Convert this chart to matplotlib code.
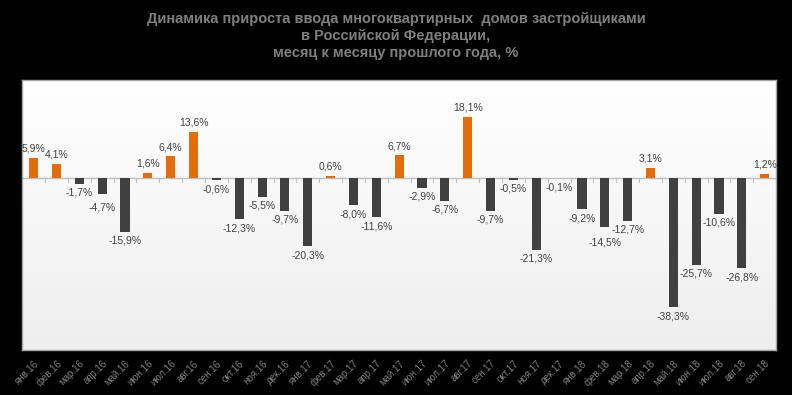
import numpy as np
import matplotlib.pyplot as plt
from matplotlib.colors import LinearSegmentedColormap

# Месяцы и прирост, %
months = ['янв.16', 'фев.16', 'мар.16', 'апр.16', 'май.16', 'июн.16', 'июл.16', 'авг.16',
          'сен.16', 'окт.16', 'ноя.16', 'дек.16',
          'янв.17', 'фев.17', 'мар.17', 'апр.17', 'май.17', 'июн.17', 'июл.17', 'авг.17',
          'сен.17', 'окт.17', 'ноя.17', 'дек.17',
          'янв.18', 'фев.18', 'мар.18', 'апр.18', 'май.18', 'июн.18', 'июл.18', 'авг.18',
          'сен.18']
values = [5.9, 4.1, -1.7, -4.7, -15.9, 1.6, 6.4, 13.6,
          -0.6, -12.3, -5.5, -9.7,
          -20.3, 0.6, -8.0, -11.6, 6.7, -2.9, -6.7, 18.1,
          -9.7, -0.5, -21.3, -0.1,
          -9.2, -14.5, -12.7, 3.1, -38.3, -25.7, -10.6, -26.8,
          1.2]

title = ('Динамика прироста ввода многоквартирных  домов застройщиками\n'
         'в Российской Федерации,\n'
         'месяц к месяцу прошлого года, %')

# подписи, которые сдвинуты ниже, чтобы не налезали на соседей
label_nudge = {'апр.16': -3, 'фев.18': -5}

plt.rcParams['font.family'] = ['Liberation Sans', 'DejaVu Sans']

fig = plt.figure(figsize=(7.92, 3.95), dpi=100, facecolor='black')
ax = fig.add_axes([0.028, 0.114, 0.952, 0.683])

x = np.arange(len(values))
colors = ['#e46c0a' if v > 0 else '#404040' for v in values]

ax.set_xlim(-0.5, len(values) - 0.5)
ax.set_ylim(-51, 29)

# фон с градиентом
grad = np.linspace(1, 0, 256).reshape(-1, 1)
cmap = LinearSegmentedColormap.from_list('g', ['#eeeeee', '#ffffff'])
ax.imshow(grad, extent=[-0.5, len(values) - 0.5, -51, 29], aspect='auto',
          cmap=cmap, zorder=0)

ax.bar(x, values, width=0.4, color=colors, zorder=3)
ax.axhline(0, color='#bfbfbf', linewidth=1, zorder=2)
for b in np.arange(-0.5, len(values), 1):
    ax.plot([b, b], [0, -1.2], color='#bfbfbf', linewidth=0.8, zorder=2)

for xi, v, m in zip(x, values, months):
    txt = f'{v:.1f}%'.replace('.', ',')
    if v >= 0:
        ax.annotate(txt, (xi, v), xytext=(0, 3), textcoords='offset points',
                    ha='center', va='bottom', fontsize=7.5, color='#404040', zorder=4)
    else:
        dy = -3 + label_nudge.get(m, 0)
        ax.annotate(txt, (xi, v), xytext=(0, dy), textcoords='offset points',
                    ha='center', va='top', fontsize=7.5, color='#404040', zorder=4)

ax.set_xticks(x)
ax.set_xticklabels(months, rotation=45, ha='right', rotation_mode='anchor',
                   fontsize=7, color='#808080')
ax.tick_params(axis='x', length=0, pad=6)
ax.set_yticks([])
for s in ax.spines.values():
    s.set_color('#a6a6a6')
    s.set_linewidth(1)

fig.text(0.5, 0.97, title, ha='center', va='top', fontsize=10.5, fontweight='bold',
         color='#7f7f7f', linespacing=1.3)

plt.savefig('out.png', dpi=100, facecolor='black')
